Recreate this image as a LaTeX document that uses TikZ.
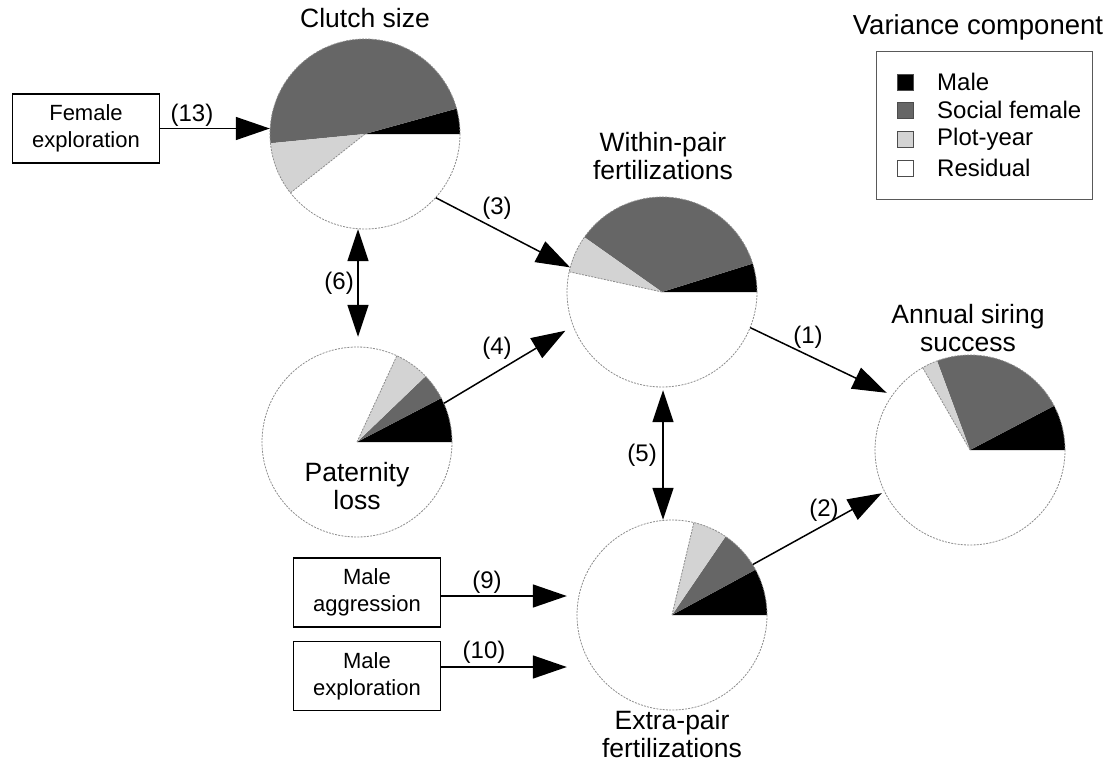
\documentclass[tikz,border=0pt]{standalone}
\usepackage{fontspec}
\setmainfont{Liberation Sans}
\usetikzlibrary{arrows.meta}
\definecolor{sfem}{HTML}{666666}
\definecolor{plotc}{HTML}{D3D3D3}
\definecolor{rim}{HTML}{8C8C8C}
\newcommand\drawpie[6]{%
  \node[circle, minimum size=190pt, inner sep=0pt] (#1) at (#2,#3) {};
  \fill[black] (#1.center) -- ++(0:95) arc[start angle=0,end angle=#4,radius=95] -- cycle;
  \fill[sfem] (#1.center) -- ++(#4:95) arc[start angle=#4,end angle=#5,radius=95] -- cycle;
  \fill[plotc] (#1.center) -- ++(#5:95) arc[start angle=#5,end angle=#6,radius=95] -- cycle;
  \draw[rimline] (#1.center) -- ++(#6:95);
  \draw[rimline] (#1.center) circle[radius=95];
}
\begin{document}
\begin{tikzpicture}[x=1pt,y=1pt,
  rimline/.style={rim, line width=0.8pt, dash pattern=on 2pt off 1.2pt},
  title/.style={align=center, font=\fontsize{26.5}{28}\selectfont, inner sep=0pt},
  lab/.style={font=\fontsize{24}{26}\selectfont, inner sep=0pt},
  box/.style={draw, line width=1.2pt, minimum width=147pt, minimum height=69pt, align=center, inner sep=0pt, font=\fontsize{22}{27}\selectfont},
  arr/.style={line width=1.5pt, -{Triangle[length=34pt,width=23pt]}},
  darr/.style={line width=1.5pt, {Triangle[length=32pt,width=21pt]}-{Triangle[length=32pt,width=21pt]}},
  legsq/.style={draw=black!70, line width=0.6pt, minimum size=16pt, inner sep=0pt},
  legtxt/.style={anchor=west, font=\fontsize{24}{26}\selectfont, inner sep=0pt}
]
\useasboundingbox (0,0) rectangle (1110,-765);

% pies
\drawpie{clutch}{365}{-134}{15.5}{185.6}{218.3}
\drawpie{within}{662}{-292}{17.4}{144.8}{167.7}
\drawpie{pat}{357}{-442}{27.5}{43.8}{65.2}
\drawpie{annual}{970}{-450}{27.7}{110.3}{119.9}
\drawpie{extra}{672}{-615}{28.5}{55.7}{76.7}

% titles
\node[title] (tclutch) at (365,-18) {Clutch size};
\node[title] (twithin) at (663,-156) {Within-pair\\fertilizations};
\node[title] (tpat) at (357,-486) {Paternity\\loss};
\node[title] (tannual) at (968,-328) {Annual siring\\success};
\node[title] (textra) at (672,-734) {Extra-pair\\fertilizations};

% boxes
\node[box] (fexp) at (86,-128.5) {Female\\exploration};
\node[box] (maggr) at (367,-592.5) {Male\\aggression};
\node[box] (mexpl) at (367,-676) {Male\\exploration};

% connectors
\draw[arr] (fexp.east) -- (fexp.east -| clutch.west);
\node[lab] (l13) at (192,-115) {(13)};
\draw[arr] (clutch.-42) -- (within.165);
\node[lab] (l3) at (497,-208) {(3)};
\draw[darr] ([xshift=1pt]clutch.south -| pat.center) -- ([xshift=1pt,yshift=10pt]pat.north);
\node[lab, anchor=east] (l6) at (354,-283) {(6)};
\draw[arr, shorten >=9pt] (pat.24) -- (within.201);
\node[lab] (l4) at (497,-348) {(4)};
\draw[arr, shorten >=6pt] (within.-22) -- (annual.145);
\node[lab] (l1) at (808,-337) {(1)};
\draw[darr] ([xshift=1pt,yshift=-3pt]within.south) -- ([xshift=1pt]within.south |- extra.north);
\node[lab, anchor=east] (l5) at (657,-455) {(5)};
\draw[arr, shorten >=3pt] (extra.32) -- (annual.206);
\node[lab] (l2) at (824,-510) {(2)};
\draw[arr, shorten >=10pt] ([yshift=-3.5pt]maggr.east) -- ([yshift=-3.5pt]maggr.east -| extra.west);
\node[lab] (l9) at (487,-582) {(9)};
\draw[arr, shorten >=10pt] ([yshift=9pt]mexpl.east) -- ([yshift=9pt]mexpl.east -| extra.west);
\node[lab] (l10) at (484,-652) {(10)};

% legend
\node[title, font=\fontsize{27.5}{29}\selectfont] (ltitle) at (978,-27) {Variance component};
\node[draw=black!65, line width=1pt, minimum width=216pt, minimum height=147pt, inner sep=0pt] (legend) at (984,-125.5) {};
\node[legsq, fill=black] (sq1) at (905.5,-82) {};
\node[legsq, fill=sfem] (sq2) at (905.5,-110) {};
\node[legsq, fill=plotc] (sq3) at (905.5,-139) {};
\node[legsq, fill=white] (sq4) at (905.5,-168) {};
\node[legtxt] (t1) at (937,-82) {Male};
\node[legtxt] (t2) at (937,-110) {Social female};
\node[legtxt] (t3) at (937,-139) {Plot-year};
\node[legtxt] (t4) at (937,-168) {Residual};
\end{tikzpicture}
\end{document}
